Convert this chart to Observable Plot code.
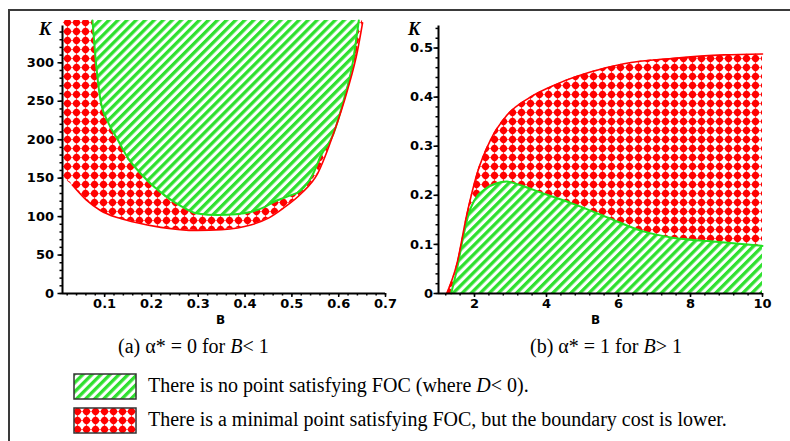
<!DOCTYPE html>
<html>
<head>
<meta charset="utf-8">
<script src="https://cdn.jsdelivr.net/npm/d3@7"></script>
<script src="https://cdn.jsdelivr.net/npm/@observablehq/plot@0.6"></script>
<style>
  html, body { margin: 0; padding: 0; background: white; }
  #wrap { position: relative; width: 790px; height: 441px; overflow: hidden; background: white; }
  .abs { position: absolute; }
  .serif { font-family: "Liberation Serif", "Times New Roman", serif; color: #000; white-space: nowrap; }
  .axlab { font-family: "DejaVu Sans", sans-serif; font-weight: bold; font-size: 12px; }
  .klab { font-family: "Liberation Serif", serif; font-weight: bold; font-style: italic; font-size: 18px; }
</style>
</head>
<body>
<div id="wrap">
  <svg width="0" height="0" style="position:absolute">
    <defs>
      <pattern id="hatchG" patternUnits="userSpaceOnUse" width="6.4" height="6.4" patternTransform="rotate(45)">
        <rect width="6.4" height="6.4" fill="white"></rect>
        <rect width="3.3" height="6.4" fill="#2fe02f"></rect>
      </pattern>
      <pattern id="dotsR" patternUnits="userSpaceOnUse" width="9" height="9">
        <rect width="9" height="9" fill="white"></rect>
        <circle cx="4.5" cy="4.5" r="3.4" fill="#ff0000"></circle>
        <polygon points="4.5,0.1 8.9,4.5 4.5,8.9 0.1,4.5" fill="#ff0000"></polygon>
      </pattern>
    </defs>
  </svg>
  <div class="abs" style="left:8px;top:9px;width:782px;height:2px;background:#3a3a3a"></div>
  <div class="abs" style="left:8px;top:9px;width:2px;height:432px;background:#3a3a3a"></div>
  <div id="left" class="abs" style="left:0;top:0"></div>
  <div id="right" class="abs" style="left:400px;top:0"></div>
  <div class="abs klab" style="left:39px;top:19px">K</div>
  <div class="abs klab" style="left:408px;top:19px">K</div>
  <div class="abs axlab" style="left:216px;top:313px">B</div>
  <div class="abs axlab" style="left:591px;top:313px">B</div>
  <div class="abs serif" id="capA" style="left:118px;top:335px;font-size:20px">(a) α* = 0 for <i>B</i>&lt; 1</div>
  <div class="abs serif" id="capB" style="left:530px;top:335px;font-size:20px">(b) α* = 1 for <i>B</i>&gt; 1</div>
  <svg class="abs" style="left:73px;top:373px" width="64" height="27"><rect x="1" y="1" width="62" height="25" fill="url(#hatchG)" stroke="#333" stroke-width="1.5"></rect></svg>
  <svg class="abs" style="left:73px;top:407px" width="64" height="27"><rect x="1" y="1" width="62" height="25" fill="url(#dotsR)" stroke="#333" stroke-width="1.5"></rect></svg>
  <div class="abs serif" style="left:148px;top:374px;font-size:20px">There is no point satisfying FOC (where <i>D</i>&lt; 0).</div>
  <div class="abs serif" style="left:148px;top:408px;font-size:20px">There is a minimal point satisfying FOC, but the boundary cost is lower.</div>
</div>
<script>
// ---------- Panel (a): B < 1 ----------
const aRedB = [0.012, 0.031, 0.06, 0.091, 0.125, 0.162, 0.22, 0.298, 0.35, 0.412, 0.45, 0.482, 0.52, 0.555, 0.589, 0.619, 0.64, 0.651];
const aRedK = [150, 141, 122, 108, 99, 93, 86, 82, 83, 89, 98, 111, 130, 156, 208, 265, 315, 352];
const aGreenB = [0.074, 0.08, 0.091, 0.108, 0.128, 0.15, 0.177, 0.205, 0.234, 0.265, 0.298, 0.341, 0.38, 0.412, 0.44, 0.461, 0.49, 0.519, 0.545, 0.561, 0.589, 0.61, 0.63, 0.643];
const aGreenK = [355, 310, 252, 222, 200, 176, 156, 139, 125, 113, 104, 102, 103, 106, 112, 119, 126, 134, 155, 178, 208, 250, 300, 355];
const aXTicks = [0.1, 0.2, 0.3, 0.4, 0.5, 0.6, 0.7];
const aYTicks = [0, 50, 100, 150, 200, 250, 300];

// ---------- Panel (b): B > 1 ----------
const bRedB = [1.23, 1.51, 1.79, 2.07, 2.44, 2.9, 3.55, 4.3, 5.22, 6.15, 7.54, 8.94, 10];
const bRedK = [0, 0.06, 0.162, 0.244, 0.312, 0.363, 0.4, 0.427, 0.451, 0.468, 0.479, 0.486, 0.488];
const bGreenB = [1.35, 1.5, 1.7, 1.85, 2.0, 2.3, 2.6, 2.9, 3.3, 3.83, 4.76, 5.69, 6.62, 7.54, 8.47, 10];
const bGreenK = [0, 0.045, 0.12, 0.165, 0.19, 0.213, 0.224, 0.228, 0.22, 0.206, 0.182, 0.155, 0.128, 0.113, 0.107, 0.097];
const bXTicks = [2, 4, 6, 8, 10];
const bYTicks = [0, 0.1, 0.2, 0.3, 0.4, 0.5];

const zip = (xs, ys) => xs.map((x, i) => ({x, y: ys[i]}));
const range = (a, b, s) => { const r = []; for (let v = a; v <= b + 1e-9; v += s) r.push(+v.toFixed(4)); return r; };
const fmt = d => String(d);

const svgStyle = {background: "transparent", overflow: "visible", fontFamily: "'DejaVu Sans', sans-serif", fontWeight: "bold", fontSize: "13px"};
const red = "#ff0000", green = "#22e022";

function fixText(svg) {
  d3.select(svg).selectAll("text").style("font-size", "13px").style("font-weight", "bold").style("font-family", "'DejaVu Sans', sans-serif");
  return svg;
}

// Panel (a)
const aTop = 355;
const aRed = zip(aRedB, aRedK);
const aGreen = zip(aGreenB, aGreenK);
const plotA = Plot.plot({
  width: 400, height: 335,
  marginLeft: 62, marginRight: 15, marginTop: 20, marginBottom: 42,
  x: {domain: [0.01, 0.7]},
  y: {domain: [0, aTop]},
  style: svgStyle,
  marks: [
    Plot.areaY(aRed, {x: "x", y1: "y", y2: aTop, curve: "monotone-x", fill: "url(#dotsR)"}),
    Plot.areaY(aGreen, {x: "x", y1: "y", y2: aTop, curve: "monotone-x", fill: "url(#hatchG)"}),
    Plot.line(aGreen, {x: "x", y: "y", curve: "monotone-x", stroke: green, strokeWidth: 2}),
    Plot.line(aRed.filter(d => d.x >= 0.03), {x: "x", y: "y", curve: "monotone-x", stroke: red, strokeWidth: 1.6}),
    Plot.axisX(range(0.02, 0.7, 0.02), {tickSize: 2.5, tickFormat: () => "", label: null, strokeWidth: 1.5}),
    Plot.axisX(aXTicks, {tickSize: 4, tickPadding: 1, tickFormat: fmt, label: null, strokeWidth: 1.5}),
    Plot.axisY(range(0, 340, 10), {tickSize: 2.5, tickFormat: () => "", label: null, strokeWidth: 1.5}),
    Plot.axisY(aYTicks, {tickSize: 4.5, tickPadding: 4, tickFormat: fmt, label: null, strokeWidth: 1.5}),
    Plot.ruleX([0.01], {y1: 0, y2: 348, stroke: "black", strokeWidth: 2}),
    Plot.ruleY([0], {x1: 0.01, x2: 0.7, stroke: "black", strokeWidth: 2})
  ]
});
document.getElementById("left").appendChild(fixText(plotA));

// Panel (b)
const bTop = 0.55;
const bRed = zip(bRedB, bRedK);
const bGreen = zip(bGreenB, bGreenK);
const plotB = Plot.plot({
  width: 390, height: 335,
  marginLeft: 38, marginRight: 28, marginTop: 23, marginBottom: 42,
  x: {domain: [1, 10]},
  y: {domain: [0, bTop]},
  style: svgStyle,
  marks: [
    Plot.areaY(bRed, {x: "x", y1: 0, y2: "y", curve: "monotone-x", fill: "url(#dotsR)"}),
    Plot.areaY(bGreen, {x: "x", y1: 0, y2: "y", curve: "monotone-x", fill: "url(#hatchG)"}),
    Plot.line(bGreen, {x: "x", y: "y", curve: "monotone-x", stroke: green, strokeWidth: 2}),
    Plot.line(bRed, {x: "x", y: "y", curve: "monotone-x", stroke: red, strokeWidth: 1.6}),
    Plot.axisX(range(1.2, 10, 0.4), {tickSize: 2.5, tickFormat: () => "", label: null, strokeWidth: 1.5}),
    Plot.axisX(bXTicks, {tickSize: 4, tickPadding: 1, tickFormat: fmt, label: null, strokeWidth: 1.5}),
    Plot.axisY(range(0, 0.54, 0.02), {tickSize: 2.5, tickFormat: () => "", label: null, strokeWidth: 1.5}),
    Plot.axisY(bYTicks, {tickSize: 4.5, tickPadding: 1, tickFormat: fmt, label: null, strokeWidth: 1.5}),
    Plot.ruleX([1], {y1: 0, y2: 0.545, stroke: "black", strokeWidth: 2}),
    Plot.ruleY([0], {x1: 1, x2: 10, stroke: "black", strokeWidth: 2})
  ]
});
document.getElementById("right").appendChild(fixText(plotB));
</script>
</body>
</html>
